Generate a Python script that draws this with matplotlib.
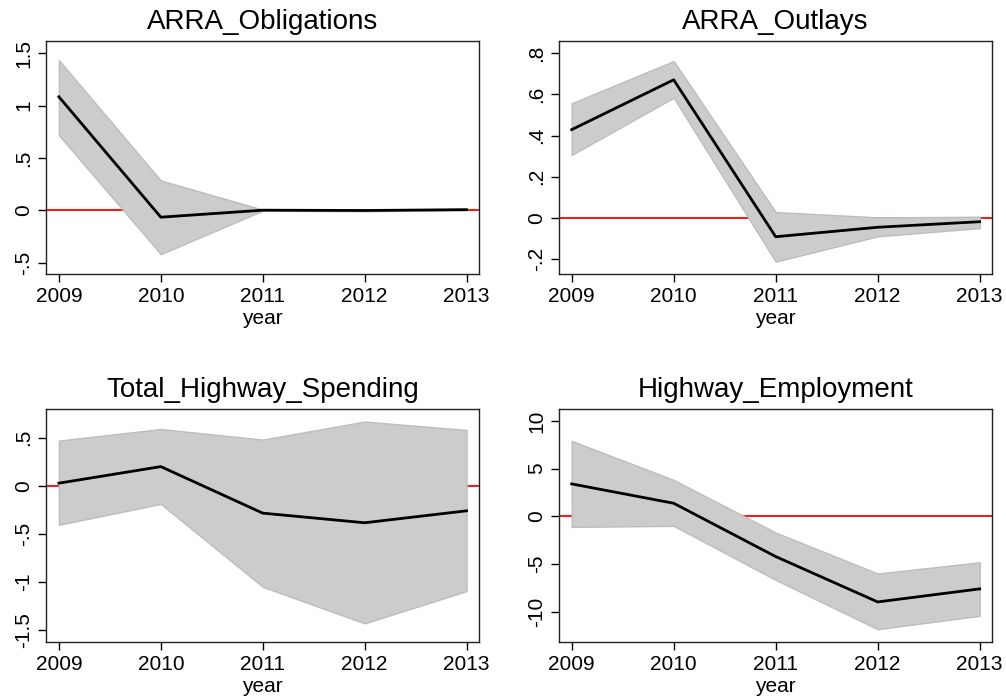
import matplotlib.pyplot as plt
import numpy as np

plt.rcParams['font.family'] = ['Liberation Sans', 'DejaVu Sans']

years = [2009, 2010, 2011, 2012, 2013]

# point estimates and confidence bands
oblig_coef = [1.083, -0.067, 0.0, -0.003, 0.005]
oblig_hi = [1.434, 0.284, 0.005, 0.003, 0.010]
oblig_lo = [0.717, -0.420, -0.005, -0.010, 0.0]

outlay_coef = [0.429, 0.671, -0.091, -0.045, -0.018]
outlay_hi = [0.557, 0.762, 0.029, 0.003, 0.006]
outlay_lo = [0.306, 0.584, -0.212, -0.089, -0.049]

spend_coef = [0.028, 0.200, -0.283, -0.383, -0.259]
spend_hi = [0.470, 0.590, 0.480, 0.667, 0.580]
spend_lo = [-0.404, -0.187, -1.047, -1.427, -1.092]

emp_coef = [3.39, 1.36, -4.23, -8.99, -7.62]
emp_hi = [7.90, 3.81, -1.71, -6.01, -4.83]
emp_lo = [-1.12, -1.01, -6.68, -11.85, -10.45]

panels = [
    ('ARRA_Obligations', oblig_coef, oblig_lo, oblig_hi,
     [-0.5, 0, 0.5, 1, 1.5], ['-.5', '0', '.5', '1', '1.5'], (-0.612, 1.616)),
    ('ARRA_Outlays', outlay_coef, outlay_lo, outlay_hi,
     [-0.2, 0, 0.2, 0.4, 0.6, 0.8], ['-.2', '0', '.2', '.4', '.6', '.8'], (-0.273, 0.859)),
    ('Total_Highway_Spending', spend_coef, spend_lo, spend_hi,
     [-1.5, -1, -0.5, 0, 0.5], ['-1.5', '-1', '-.5', '0', '.5'], (-1.623, 0.795)),
    ('Highway_Employment', emp_coef, emp_lo, emp_hi,
     [-10, -5, 0, 5, 10], ['-10', '-5', '0', '5', '10'], (-13.22, 11.22)),
]

positions = [
    [0.0457, 0.606, 0.430, 0.335],
    [0.5554, 0.606, 0.4304, 0.335],
    [0.0457, 0.0772, 0.430, 0.3348],
    [0.5554, 0.0772, 0.4304, 0.3348],
]

fig = plt.figure(figsize=(10.06, 6.96), dpi=100)

for pos, (title, coef, lo, hi, yt, ytl, ylim) in zip(positions, panels):
    ax = fig.add_axes(pos)
    ax.axhline(0, color='red', lw=1.3, zorder=1)
    ax.fill_between(years, lo, hi, color='#cccccc', edgecolor='#bdbdbd', lw=1, zorder=2)
    ax.plot(years, coef, color='black', lw=2, zorder=3)
    ax.set_xlim(2008.873, 2013.118)
    ax.set_ylim(*ylim)
    ax.set_xticks(years)
    ax.set_xticklabels([str(y) for y in years], fontsize=15)
    ax.set_yticks(yt)
    ax.set_yticklabels(ytl, fontsize=15, rotation=90, va='center')
    ax.tick_params(direction='out', length=6, width=1, pad=3)
    ax.set_xlabel('year', fontsize=15, labelpad=2)
    ax.set_title(title, fontsize=20, pad=9)
    for s in ax.spines.values():
        s.set_linewidth(1)
        s.set_color('#222222')

fig.savefig('out.png', dpi=100)
